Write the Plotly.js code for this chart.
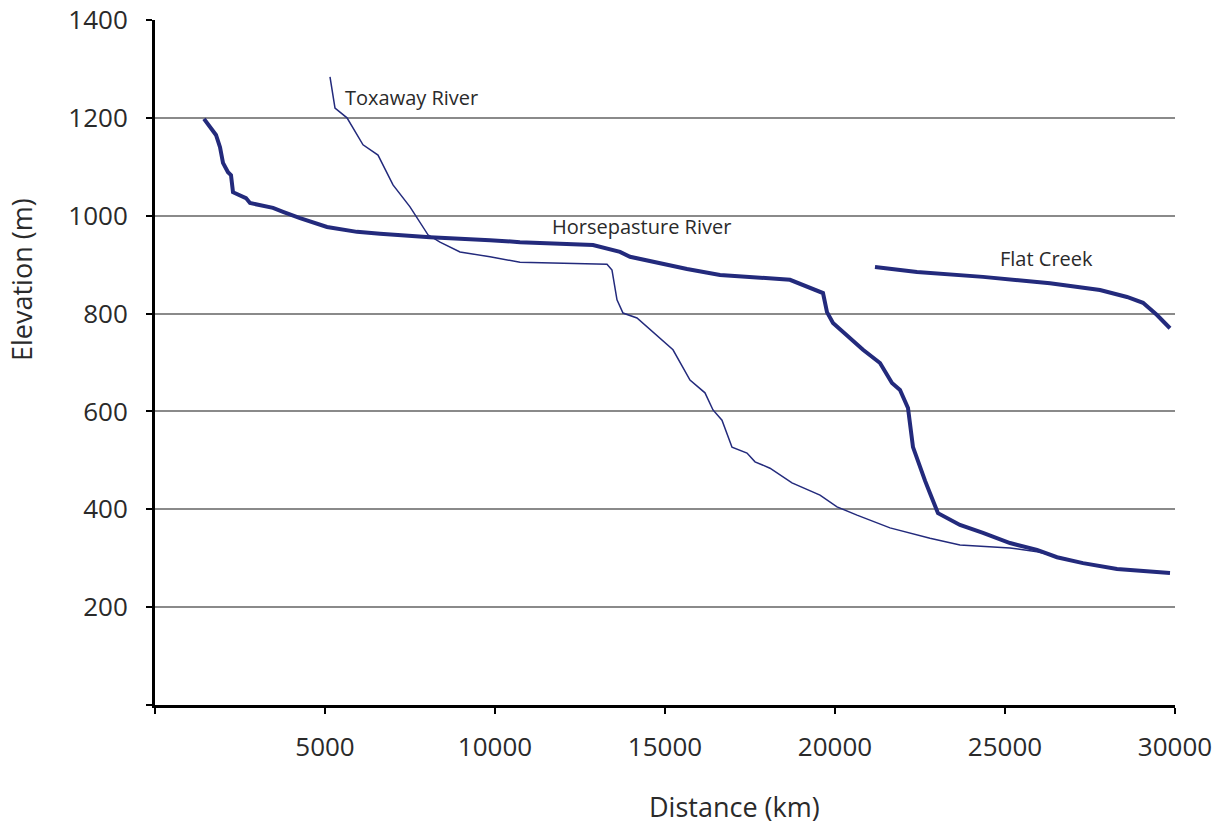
<!DOCTYPE html>
<html>
<head>
<meta charset="utf-8">
<script src="https://cdn.plot.ly/plotly-3.0.1.min.js"></script>
<style>html,body{margin:0;padding:0;background:#fff;}#chart{width:1229px;height:827px;}</style>
</head>
<body>
<div id="chart"></div>
<script>
// Horsepasture River (thick line)
const horseX = [1441,1618,1794,1912,2000,2147,2235,2294,2500,2676,2794,3471,3765,4265,5059,5941,6618,8088,9853,10735,12882,13676,13971,15647,16618,18676,19647,19765,19941,20529,20824,21324,21676,21912,22147,22294,22400,22500,22650,22794,23029,23676,24353,25147,25941,26529,27294,28294,29853];
const horseY = [1198,1181,1165,1140,1108,1089,1083,1048,1042,1036,1026,1016,1008,995,977,967,963,956,950,946,940,926,916,891,879,869,842,803,781,746,726,699,658,644,607,527,505,486,458,433,392,368,352,331,317,302,290,278,270];

// Toxaway River (thin line)
const toxX = [5147,5294,5647,6118,6559,7000,7500,8029,8382,8971,9853,10735,13294,13441,13588,13765,14176,14853,15235,15735,16176,16412,16676,16971,17412,17647,18088,18735,19559,20059,20647,21618,22794,23676,25147,25941,26324,27294,28294,29853];
const toxY = [1284,1220,1200,1145,1124,1063,1018,961,946,926,916,905,901,889,828,801,791,750,726,664,638,603,582,527,515,497,484,454,429,405,388,362,341,327,321,313,307,290,278,270];

// Flat Creek (thick line)
const flatX = [21176,22412,24353,26324,27794,28588,29059,29471,29853];
const flatY = [895,885,875,862,848,834,822,797,770];

// Axis ticks
const xTickVals = [0,5000,10000,15000,20000,25000,30000];
const xTickText = ['','5000','10000','15000','20000','25000','30000'];
const yTickVals = [0,200,400,600,800,1000,1200,1400];
const yTickText = ['','200','400','600','800','1000','1200','1400'];

// Line labels
const labelNames = ['Toxaway River','Horsepasture River','Flat Creek'];
const labelX = [5529,11618,24794];
const labelY = [1241,977,912];

const navy = '#232a7c';
const traces = [
  {x: toxX, y: toxY, mode:'lines', name:'Toxaway River', line:{color:navy, width:1.5}, hoverinfo:'x+y+name'},
  {x: horseX, y: horseY, mode:'lines', name:'Horsepasture River', line:{color:navy, width:4}, hoverinfo:'x+y+name'},
  {x: flatX, y: flatY, mode:'lines', name:'Flat Creek', line:{color:navy, width:4}, hoverinfo:'x+y+name'}
];

const annotations = labelNames.map((t,i)=>({
  x: labelX[i], y: labelY[i], xref:'x', yref:'y', text: t, showarrow:false,
  xanchor:'left', yanchor:'middle', font:{family:'Open Sans, sans-serif', size:20, color:'#2a2a2a'}
}));
annotations.push({
  text:'Distance (km)', xref:'paper', yref:'paper', x:(734-155)/1020, y:-(806-705)/685,
  xanchor:'center', yanchor:'middle', showarrow:false,
  font:{family:'Open Sans, sans-serif', size:27, color:'#2a2a2a'}
});
annotations.push({
  text:'Elevation (m)', xref:'paper', yref:'paper', x:-(155-21)/1020, y:(705-280)/685,
  xanchor:'center', yanchor:'middle', textangle:-90, showarrow:false,
  font:{family:'Open Sans, sans-serif', size:27, color:'#2a2a2a'}
});

const layout = {
  width:1229, height:827,
  margin:{l:155, r:54, t:20, b:122},
  paper_bgcolor:'#ffffff', plot_bgcolor:'#ffffff',
  showlegend:false,
  xaxis:{
    range:[0,30000], tickvals:xTickVals, ticktext:xTickText,
    showline:true, linecolor:'#000', linewidth:3,
    ticks:'outside', ticklen:6, tickwidth:2, tickcolor:'#000',
    ticklabelstandoff:11,
    showgrid:false, zeroline:false,
    tickfont:{family:'Open Sans, sans-serif', size:26, color:'#2a2a2a'}
  },
  yaxis:{
    range:[0,1400], tickvals:yTickVals, ticktext:yTickText,
    showline:true, linecolor:'#000', linewidth:3,
    ticks:'outside', ticklen:6, tickwidth:2, tickcolor:'#000',
    ticklabelstandoff:13,
    showgrid:true, gridcolor:'#8a8a8a', gridwidth:2, zeroline:false,
    tickfont:{family:'Open Sans, sans-serif', size:26, color:'#2a2a2a'}
  },
  annotations: annotations
};

Plotly.newPlot('chart', traces, layout, {displayModeBar:false});
</script>
</body>
</html>
